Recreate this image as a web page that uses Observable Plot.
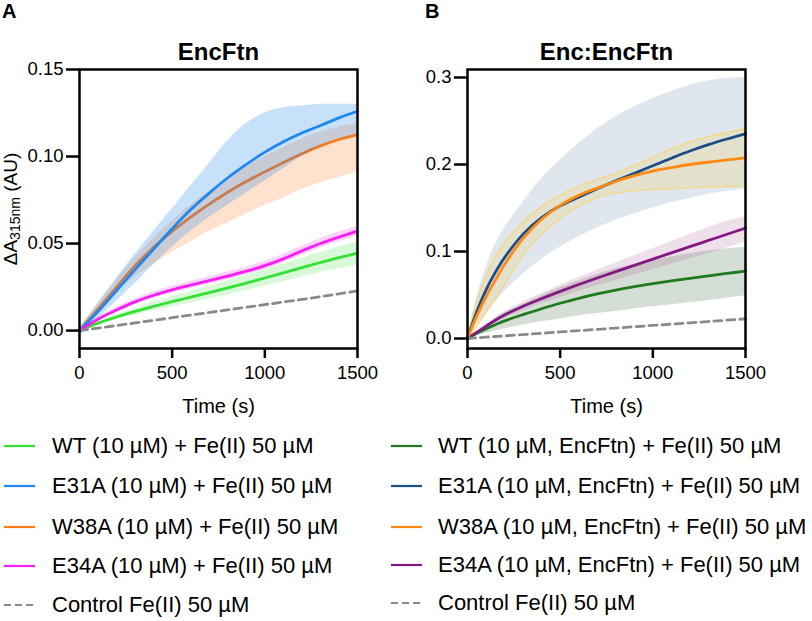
<!DOCTYPE html>
<html><head><meta charset="utf-8">
<script src="https://cdn.jsdelivr.net/npm/d3@7"></script>
<script src="https://cdn.jsdelivr.net/npm/@observablehq/plot@0.6"></script>
<style>
body{margin:0;background:#fff;font-family:"Liberation Sans",Arial,sans-serif;}
#wrap{position:relative;width:812px;height:621px;overflow:hidden;background:#fff;}
.lg{position:absolute;font-size:22px;line-height:26px;white-space:nowrap;color:#000;}
.pl{position:absolute;font-size:20px;font-weight:bold;line-height:20px;color:#000;}
</style></head><body><div id="wrap"></div>
<script>
// ---------- labels ----------
const titleA = "EncFtn";
const titleB = "Enc:EncFtn";
const xLabel = "Time (s)";
const xTicks = [0, 500, 1000, 1500];
const yTicksA = [0, 0.05, 0.10, 0.15];
const yTicksB = [0, 0.1, 0.2, 0.3];
const legendA = ["WT (10 µM) + Fe(II) 50 µM", "E31A (10 µM) + Fe(II) 50 µM", "W38A (10 µM) + Fe(II) 50 µM", "E34A (10 µM) + Fe(II) 50 µM", "Control Fe(II) 50 µM"];
const legendB = ["WT (10 µM, EncFtn) + Fe(II) 50 µM", "E31A (10 µM, EncFtn) + Fe(II) 50 µM", "W38A (10 µM, EncFtn) + Fe(II) 50 µM", "E34A (10 µM, EncFtn) + Fe(II) 50 µM", "Control Fe(II) 50 µM"];

// ---------- panel A data (EncFtn) ----------
const tA = [0,100,200,300,400,500,600,700,800,900,1000,1100,1200,1300,1400,1500];
const A_WT_mean = [0,0.0042,0.0078,0.011,0.0139,0.0166,0.0192,0.0218,0.0245,0.0273,0.0302,0.0332,0.0362,0.0391,0.0419,0.0445];
const A_WT_lo   = [0,0.0034,0.0063,0.009,0.0114,0.0136,0.0159,0.0181,0.0205,0.023,0.0256,0.0282,0.0308,0.0333,0.0356,0.0377];
const A_WT_hi   = [0,0.005,0.0093,0.013,0.0164,0.0196,0.0225,0.0255,0.0285,0.0316,0.0348,0.0382,0.0416,0.0449,0.048,0.0509];
const A_E31A_mean = [0,0.011,0.023,0.035,0.0468,0.0585,0.0695,0.079,0.0878,0.0955,0.1025,0.1085,0.1135,0.1178,0.1222,0.126];
const A_E31A_lo   = [-0.003,0.007,0.017,0.027,0.038,0.048,0.057,0.065,0.072,0.079,0.086,0.093,0.1,0.106,0.11,0.113];
const A_E31A_hi   = [0.001,0.016,0.03,0.044,0.057,0.07,0.083,0.096,0.109,0.119,0.125,0.128,0.129,0.13,0.13,0.13];
const A_W38A_mean = [0,0.0125,0.025,0.0372,0.0478,0.057,0.0652,0.0727,0.0795,0.0856,0.0912,0.0966,0.1016,0.1061,0.1098,0.1126];
const A_W38A_lo   = [0,0.01,0.021,0.031,0.038,0.045,0.051,0.057,0.062,0.067,0.072,0.076,0.081,0.085,0.088,0.091];
const A_W38A_hi   = [0.002,0.015,0.029,0.042,0.053,0.063,0.072,0.08,0.087,0.094,0.1,0.105,0.11,0.114,0.117,0.119];
const A_E34A_mean = [0,0.0065,0.0118,0.0165,0.0203,0.0234,0.0261,0.0287,0.0313,0.0341,0.0373,0.0412,0.0458,0.05,0.0537,0.0571];
const A_E34A_lo   = [0,0.0058,0.0105,0.015,0.0186,0.0216,0.0242,0.0267,0.0292,0.0319,0.035,0.0388,0.0433,0.0474,0.051,0.0544];
const A_E34A_hi   = [0,0.0077,0.0134,0.0183,0.0222,0.0254,0.0282,0.0309,0.0336,0.0365,0.0398,0.0438,0.0485,0.0528,0.0566,0.0598];
const A_Ctrl = [0,0.0014,0.0029,0.0044,0.0059,0.0074,0.0089,0.0104,0.0119,0.0134,0.0149,0.0164,0.0179,0.0195,0.0211,0.0228];

// ---------- panel B data (Enc:EncFtn) ----------
const tB = [0,50,100,150,200,300,400,500,600,700,800,900,1000,1100,1200,1300,1400,1500];
const B_WT_mean = [0,0.006,0.011,0.0157,0.0202,0.0275,0.0342,0.0405,0.0462,0.0512,0.0556,0.0595,0.063,0.0662,0.0692,0.0721,0.0748,0.0774];
const B_WT_lo   = [0,0.003,0.006,0.0087,0.0112,0.0155,0.0192,0.0225,0.0262,0.0287,0.0311,0.034,0.0365,0.0387,0.041,0.0436,0.0463,0.049];
const B_WT_hi   = [0,0.009,0.016,0.0227,0.0292,0.0395,0.0492,0.0585,0.0662,0.0737,0.0801,0.085,0.0895,0.0937,0.0974,0.1006,0.1033,0.105];
const B_E31A_mean = [0,0.031,0.056,0.076,0.093,0.12,0.139,0.1525,0.1625,0.1722,0.1812,0.1898,0.1985,0.2072,0.2155,0.2228,0.2293,0.2353];
const B_E31A_lo   = [-0.002,0.016,0.03,0.042,0.054,0.074,0.091,0.105,0.117,0.127,0.136,0.143,0.15,0.156,0.161,0.166,0.169,0.172];
const B_E31A_hi   = [0.002,0.047,0.082,0.108,0.127,0.157,0.184,0.205,0.224,0.241,0.255,0.266,0.276,0.284,0.291,0.296,0.299,0.3];
const B_W38A_mean = [0,0.026,0.048,0.067,0.085,0.115,0.137,0.153,0.1645,0.1728,0.1805,0.1872,0.1925,0.1965,0.2,0.2028,0.2053,0.2077];
const B_W38A_lo   = [-0.002,0.014,0.03,0.045,0.062,0.096,0.12,0.138,0.152,0.162,0.167,0.17,0.171,0.172,0.173,0.174,0.1745,0.175];
const B_W38A_hi   = [0.002,0.042,0.072,0.094,0.11,0.134,0.152,0.165,0.175,0.183,0.19,0.199,0.208,0.218,0.226,0.232,0.237,0.241];
const B_E34A_mean = [0,0.007,0.014,0.021,0.027,0.037,0.0458,0.0541,0.062,0.0695,0.0768,0.084,0.0912,0.0984,0.1056,0.1127,0.1198,0.1268];
const B_E34A_lo   = [0,0.006,0.012,0.018,0.023,0.032,0.0398,0.0471,0.054,0.0605,0.0668,0.073,0.0792,0.0854,0.0916,0.0977,0.1042,0.111];
const B_E34A_hi   = [0,0.008,0.016,0.024,0.031,0.042,0.0518,0.0611,0.07,0.0785,0.0868,0.095,0.1032,0.1114,0.1196,0.1277,0.1348,0.14];
const B_Ctrl = [0,0.0008,0.0015,0.0023,0.003,0.0045,0.006,0.0075,0.009,0.0105,0.012,0.0135,0.015,0.0165,0.018,0.0195,0.021,0.0226];

// ---------- colours ----------
const colA = {WT:"#35e035", E31A:"#1e88f0", W38A:"#ff7a1a", E34A:"#f51ef5", Ctrl:"#8a8a8a"};
const colB = {WT:"#1f7a1f", E31A:"#1b4e88", W38A:"#ff8a10", E34A:"#821a82", Ctrl:"#8a8a8a"};

function rows(t, m, lo, hi) { return t.map((d, i) => ({t: d, m: m[i], lo: lo ? lo[i] : null, hi: hi ? hi[i] : null})); }

const font = '"Liberation Sans", Arial, sans-serif';
const styleObj = {fontFamily: font, fontSize: "18.5px", color: "#000", background: "transparent", overflow: "visible"};
const C = "catmull-rom";
const LW = 2.8;

function band(data, fill, op) { return Plot.areaY(data, {x: "t", y1: "lo", y2: "hi", fill, fillOpacity: op, curve: C}); }
function line(data, stroke, extra = {}) { return Plot.lineY(data, {x: "t", y: "m", stroke, strokeWidth: LW, curve: C, ...extra}); }

const aWT = rows(tA, A_WT_mean, A_WT_lo, A_WT_hi);
const aE31A = rows(tA, A_E31A_mean, A_E31A_lo, A_E31A_hi);
const aW38A = rows(tA, A_W38A_mean, A_W38A_lo, A_W38A_hi);
const aE34A = rows(tA, A_E34A_mean, A_E34A_lo, A_E34A_hi);
const aCtrl = rows(tA, A_Ctrl);

const bWT = rows(tB, B_WT_mean, B_WT_lo, B_WT_hi);
const bE31A = rows(tB, B_E31A_mean, B_E31A_lo, B_E31A_hi);
const bW38A = rows(tB, B_W38A_mean, B_W38A_lo, B_W38A_hi);
const bE34A = rows(tB, B_E34A_mean, B_E34A_lo, B_E34A_hi);
const bCtrl = rows(tB, B_Ctrl);

function axes(yTicks, yFmt, title) {
  return [
    Plot.frame({stroke: "#000", strokeWidth: 2.5}),
    Plot.axisY({ticks: yTicks, tickFormat: d3.format(yFmt), tickSize: 13, tickPadding: 3, strokeWidth: 2.5, fontSize: 18.5, label: null}),
    Plot.axisX({ticks: xTicks, tickFormat: d3.format("d"), tickSize: 10, tickPadding: 7, strokeWidth: 2.5, fontSize: 18.5, label: null}),
    Plot.text([title], {text: d => d, frameAnchor: "top", dy: -17, lineAnchor: "middle", fontSize: 24, fontWeight: "bold"}),
    Plot.text([xLabel], {text: d => d, frameAnchor: "bottom", dy: 58, lineAnchor: "middle", fontSize: 20})
  ];
}

const plotA = Plot.plot({
  width: 400, height: 420,
  marginLeft: 79, marginRight: 43, marginTop: 69, marginBottom: 72,
  style: styleObj,
  x: {domain: [0, 1500]},
  y: {domain: [-0.0103, 0.15]},
  marks: [
    band(aW38A, colA.W38A, 0.22),
    line(aW38A, colA.W38A),
    band(aE31A, colA.E31A, 0.25),
    line(aE31A, colA.E31A),
    band(aWT, colA.WT, 0.2),
    line(aWT, colA.WT),
    band(aE34A, colA.E34A, 0.2),
    line(aE34A, colA.E34A),
    line(aCtrl, colA.Ctrl, {strokeDasharray: "8,5", curve: "linear"}),
    ...axes(yTicksA, ".2f", titleA)
  ]
});

const plotB = Plot.plot({
  width: 412, height: 420,
  marginLeft: 67, marginRight: 67, marginTop: 69, marginBottom: 72,
  style: styleObj,
  x: {domain: [0, 1500]},
  y: {domain: [-0.0115, 0.3092]},
  marks: [
    band(bE31A, "#1b4e88", 0.14),
    band(bW38A, "#f5cc40", 0.2),
    Plot.lineY(bW38A, {x: "t", y: "hi", stroke: "#f8d77a", strokeWidth: 1.2, curve: C}),
    Plot.lineY(bW38A, {x: "t", y: "lo", stroke: "#f8d77a", strokeWidth: 1.2, curve: C}),
    band(bWT, "#5e7f5e", 0.26),
    band(bE34A, "#9a3a80", 0.16),
    line(bWT, colB.WT),
    line(bE34A, colB.E34A),
    line(bE31A, colB.E31A),
    line(bW38A, colB.W38A),
    line(bCtrl, colB.Ctrl, {strokeDasharray: "8,5", curve: "linear"}),
    ...axes(yTicksB, ".1f", titleB)
  ]
});

const wrap = document.getElementById("wrap");
plotA.style.position = "absolute"; plotA.style.left = "0px"; plotA.style.top = "0px";
plotB.style.position = "absolute"; plotB.style.left = "400px"; plotB.style.top = "0px";
wrap.appendChild(plotA);
wrap.appendChild(plotB);

// y-axis title with subscript (panel A)
const yl = d3.select(plotA).append("text")
  .attr("transform", "translate(17,209) rotate(-90)")
  .attr("text-anchor", "middle")
  .attr("font-size", 19)
  .attr("fill", "#000");
yl.append("tspan").text("ΔA");
yl.append("tspan").attr("font-size", 14).attr("dy", 3).text("315nm");
yl.append("tspan").attr("dy", -3).text(" (AU)");

// panel letters
[["A", 2], ["B", 425]].forEach(([s, x]) => {
  const d = document.createElement("div");
  d.className = "pl"; d.textContent = s;
  d.style.left = x + "px"; d.style.top = "1px";
  wrap.appendChild(d);
});

// legends
const keys = ["WT", "E31A", "W38A", "E34A", "Ctrl"];
const rowYA = [446, 486, 527, 566, 605];
const rowYB = [446, 486, 527, 565, 603];
function legend(labels, cols, rowY, swX, txtX) {
  labels.forEach((lab, i) => {
    const k = keys[i];
    const sw = document.createElementNS("http://www.w3.org/2000/svg", "svg");
    sw.setAttribute("width", 32); sw.setAttribute("height", 8);
    sw.style.position = "absolute"; sw.style.left = swX + "px"; sw.style.top = (rowY[i] - 4) + "px";
    const ln = document.createElementNS("http://www.w3.org/2000/svg", "line");
    ln.setAttribute("x1", 0); ln.setAttribute("x2", 31); ln.setAttribute("y1", 4); ln.setAttribute("y2", 4);
    ln.setAttribute("stroke", cols[k]); ln.setAttribute("stroke-width", 2.2);
    if (k === "Ctrl") ln.setAttribute("stroke-dasharray", "7,4");
    sw.appendChild(ln);
    wrap.appendChild(sw);
    const d = document.createElement("div");
    d.className = "lg"; d.textContent = lab;
    d.style.left = txtX + "px"; d.style.top = (rowY[i] - 12.7) + "px";
    wrap.appendChild(d);
  });
}
legend(legendA, colA, rowYA, 4, 52);
legend(legendB, colB, rowYB, 391, 438);
</script>
</body></html>
